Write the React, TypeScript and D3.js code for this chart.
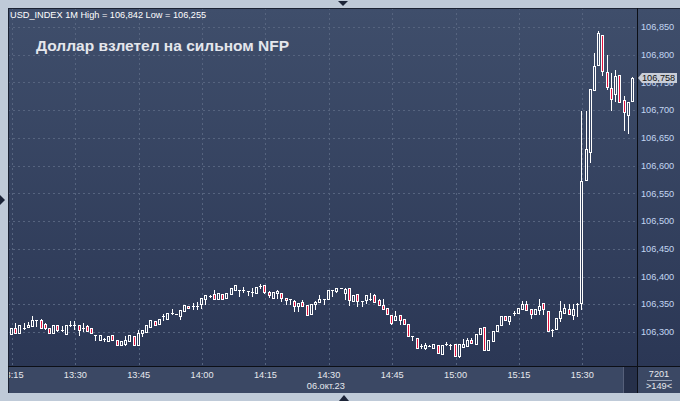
import React from 'react';
import * as d3 from 'd3';

// minute candles USD_INDEX, 06.10.2023, first bar 13:14
const startTime = '13:14';

const opens = [
  106.285, 106.297, 106.308, 106.299, 106.308, 106.309, 106.311, 106.321, 106.321, 106.314,
  106.308, 106.299, 106.312, 106.304, 106.296, 106.312, 106.312, 106.312, 106.308, 106.310,
  106.308, 106.295, 106.286, 106.287, 106.283, 106.294, 106.285, 106.276, 106.278, 106.283,
  106.293, 106.276, 106.299, 106.300, 106.309, 106.319, 106.314, 106.328, 106.324, 106.334,
  106.333, 106.329, 106.338, 106.347, 106.347, 106.346, 106.351, 106.359, 106.365, 106.368,
  106.360, 106.368, 106.362, 106.369, 106.376, 106.376, 106.375, 106.374, 106.370, 106.370,
  106.383, 106.385, 106.372, 106.362, 106.370, 106.370, 106.362, 106.360, 106.355, 106.347,
  106.354, 106.349, 106.333, 106.351, 106.354, 106.360, 106.360, 106.376, 106.374, 106.379,
  106.370, 106.380, 106.355, 106.368, 106.356, 106.358, 106.360, 106.366, 106.357, 106.349,
  106.344, 106.331, 106.322, 106.331, 106.324, 106.315, 106.293, 106.290, 106.275, 106.272,
  106.275, 106.272, 106.277, 106.261, 106.278, 106.277, 106.278, 106.256, 106.273, 106.275,
  106.285, 106.278, 106.296, 106.309, 106.267, 106.284, 106.302, 106.312, 106.329, 106.320,
  106.332, 106.334, 106.341, 106.350, 106.341, 106.333, 106.339, 106.353, 106.338, 106.303,
  106.305, 106.326, 106.334, 106.342, 106.330, 106.351, 106.353, 106.574, 106.624, 106.736,
  106.781, 106.836, 106.769, 106.740, 106.729, 106.763, 106.719, 106.691, 106.716,
];
const highs = [
  106.297, 106.308, 106.317, 106.313, 106.317, 106.318, 106.328, 106.321, 106.323, 106.317,
  106.308, 106.312, 106.312, 106.310, 106.312, 106.320, 106.320, 106.312, 106.317, 106.312,
  106.308, 106.295, 106.294, 106.290, 106.293, 106.294, 106.285, 106.284, 106.293, 106.294,
  106.293, 106.303, 106.303, 106.312, 106.321, 106.319, 106.324, 106.333, 106.334, 106.341,
  106.333, 106.339, 106.348, 106.347, 106.352, 106.354, 106.361, 106.366, 106.367, 106.375,
  106.370, 106.368, 106.371, 106.379, 106.384, 106.376, 106.382, 106.374, 106.379, 106.381,
  106.386, 106.385, 106.374, 106.372, 106.376, 106.370, 106.362, 106.360, 106.358, 106.352,
  106.358, 106.349, 106.351, 106.355, 106.366, 106.360, 106.375, 106.376, 106.379, 106.379,
  106.380, 106.380, 106.366, 106.368, 106.356, 106.367, 106.370, 106.368, 106.359, 106.359,
  106.344, 106.331, 106.338, 106.331, 106.324, 106.315, 106.293, 106.290, 106.279, 106.280,
  106.276, 106.279, 106.277, 106.277, 106.282, 106.278, 106.278, 106.279, 106.287, 106.290,
  106.289, 106.296, 106.308, 106.309, 106.285, 106.302, 106.312, 106.329, 106.329, 106.329,
  106.338, 106.343, 106.355, 106.356, 106.341, 106.341, 106.359, 106.353, 106.338, 106.306,
  106.326, 106.355, 106.350, 106.351, 106.350, 106.353, 106.698, 106.698, 106.739, 106.803,
  106.842, 106.836, 106.800, 106.767, 106.773, 106.763, 106.725, 106.715, 106.759,
];
const lows = [
  106.284, 106.297, 106.299, 106.299, 106.305, 106.309, 106.311, 106.311, 106.308, 106.305,
  106.299, 106.299, 106.301, 106.301, 106.296, 106.311, 106.305, 106.295, 106.302, 106.301,
  106.298, 106.286, 106.286, 106.284, 106.283, 106.285, 106.276, 106.276, 106.276, 106.283,
  106.276, 106.276, 106.293, 106.300, 106.309, 106.312, 106.314, 106.322, 106.324, 106.332,
  106.332, 106.324, 106.338, 106.343, 106.342, 106.342, 106.344, 106.351, 106.364, 106.360,
  106.360, 106.360, 106.362, 106.369, 106.376, 106.365, 106.372, 106.366, 106.365, 106.370,
  106.380, 106.370, 106.364, 106.362, 106.362, 106.356, 106.351, 106.351, 106.338, 106.338,
  106.347, 106.331, 106.333, 106.342, 106.354, 106.351, 106.360, 106.365, 106.372, 106.379,
  106.360, 106.348, 106.355, 106.347, 106.346, 106.353, 106.358, 106.354, 106.349, 106.342,
  106.333, 106.314, 106.322, 106.314, 106.314, 106.293, 106.286, 106.272, 106.272, 106.270,
  106.275, 106.272, 106.263, 106.261, 106.277, 106.270, 106.257, 106.255, 106.273, 106.275,
  106.281, 106.278, 106.296, 106.267, 106.267, 106.284, 106.302, 106.312, 106.321, 106.314,
  106.331, 106.334, 106.341, 106.339, 106.326, 106.333, 106.333, 106.333, 106.302, 106.293,
  106.305, 106.320, 106.334, 106.332, 106.323, 106.329, 106.341, 106.574, 106.606, 106.736,
  106.781, 106.764, 106.739, 106.701, 106.716, 106.715, 106.664, 106.659, 106.716,
];
const closes = [
  106.297, 106.308, 106.299, 106.313, 106.308, 106.313, 106.321, 106.321, 106.308, 106.308,
  106.299, 106.312, 106.303, 106.304, 106.312, 106.312, 106.312, 106.304, 106.308, 106.302,
  106.298, 106.295, 106.294, 106.287, 106.293, 106.285, 106.276, 106.284, 106.285, 106.294,
  106.276, 106.299, 106.303, 106.312, 106.321, 106.312, 106.324, 106.328, 106.334, 106.334,
  106.333, 106.339, 106.348, 106.343, 106.347, 106.346, 106.361, 106.366, 106.365, 106.360,
  106.370, 106.360, 106.371, 106.379, 106.384, 106.376, 106.375, 106.374, 106.373, 106.381,
  106.383, 106.372, 106.366, 106.372, 106.374, 106.362, 106.358, 106.360, 106.346, 106.352,
  106.347, 106.331, 106.351, 106.354, 106.359, 106.360, 106.375, 106.376, 106.379, 106.379,
  106.378, 106.358, 106.366, 106.355, 106.356, 106.367, 106.360, 106.354, 106.349, 106.342,
  106.333, 106.316, 106.328, 106.322, 106.314, 106.293, 106.293, 106.272, 106.275, 106.277,
  106.275, 106.279, 106.263, 106.277, 106.278, 106.277, 106.257, 106.279, 106.279, 106.285,
  106.281, 106.296, 106.308, 106.267, 106.285, 106.302, 106.312, 106.329, 106.321, 106.329,
  106.335, 106.343, 106.350, 106.339, 106.333, 106.341, 106.347, 106.342, 106.302, 106.303,
  106.326, 106.337, 106.344, 106.332, 106.342, 106.351, 106.572, 106.630, 106.739, 106.780,
  106.840, 106.770, 106.741, 106.721, 106.762, 106.715, 106.697, 106.715, 106.758,
];

const xTickLabels = ['13:15', '13:30', '13:45', '14:00', '14:15', '14:30', '14:45', '15:00', '15:15', '15:30'];
const yTicks = [106.30, 106.35, 106.40, 106.45, 106.50, 106.55, 106.60, 106.65, 106.70, 106.75, 106.80, 106.85];

const headerText = 'USD_INDEX 1M High = 106,842 Low = 106,255';
const titleText = 'Доллар взлетел на сильном NFP';
const dateLabel = '06.окт.23';
const barsTotal = '7201';
const barsShown = '>149<';

const W = 680, H = 401;
const panel = { left: 8, top: 8, right: 680, bottom: 393 };
const plotRight = 637, plotBottom = 366;
const FONT = '"Liberation Sans", Arial, sans-serif';

const toMin = (s: string) => { const [h, m] = s.split(':').map(Number); return h * 60 + m; };
const fmt = (v: number) => d3.format('.3f')(v).replace('.', ',');

const App = () => {
  const t0 = toMin(startTime);
  const x = d3.scaleLinear().domain([toMin('13:15'), toMin('15:30')]).range([12, 582.3]);
  const y = d3.scaleLinear().domain([106.30, 106.85]).range([332, 27]);
  const snap = (v: number) => Math.round(v) + 0.5;
  const last = closes[closes.length - 1];
  const ly = y(last);

  return (
    <svg width={W} height={H} style={{ position: 'absolute', left: 0, top: 0, display: 'block' }} fontFamily={FONT}>
      <defs>
        <linearGradient id="bg" gradientUnits="userSpaceOnUse" x1="0" y1={panel.top} x2="0" y2={plotBottom}>
          <stop offset="0" stopColor="#3f4e6b" />
          <stop offset="1" stopColor="#2b3755" />
        </linearGradient>
        <clipPath id="plotClip">
          <rect x={panel.left + 1} y={panel.top + 1} width={plotRight - panel.left - 1} height={plotBottom - panel.top - 1} />
        </clipPath>
        <clipPath id="axisClip">
          <rect x={panel.left + 1} y={plotBottom} width={623 - panel.left - 1} height={panel.bottom - plotBottom} />
        </clipPath>
      </defs>

      {/* outer frame */}
      <rect x={0} y={0} width={W} height={H} fill="#bfcad8" />
      <rect x={panel.left} y={panel.top} width={panel.right - panel.left} height={panel.bottom - panel.top} fill="url(#bg)" />
      <rect x={panel.left} y={plotBottom} width={panel.right - panel.left} height={panel.bottom - plotBottom} fill="#3b4864" />
      <polygon points="338,1 348,1 343,6" fill="#1c2438" />
      <polygon points="339,401 349,401 344,395" fill="#1c2438" />
      <polygon points="0,195 0,205 5,200" fill="#1c2438" />

      {/* grid */}
      <g stroke="#56647f" strokeWidth={1} strokeDasharray="2,3">
        {yTicks.map(t => (
          <line key={t} x1={panel.left} x2={plotRight} y1={snap(y(t))} y2={snap(y(t))} />
        ))}
        {xTickLabels.map(l => (
          <line key={l} x1={snap(x(toMin(l)))} x2={snap(x(toMin(l)))} y1={panel.top} y2={plotBottom} />
        ))}
      </g>

      {/* candles */}
      <g clipPath="url(#plotClip)">
        {opens.map((o, i) => {
          const c = closes[i];
          const cx = Math.round(x(t0 + i));
          const top = Math.round(y(Math.max(o, c)));
          const bot = Math.round(y(Math.min(o, c)));
          const bear = c < o;
          return (
            <g key={i}>
              <line x1={cx - 0.5} x2={cx - 0.5} y1={Math.round(y(highs[i]))} y2={Math.round(y(lows[i])) + 1} stroke="#ffffff" />
              {bot - top < 2 ? (
                <line x1={cx - 2} x2={cx + 1} y1={top + 0.5} y2={top + 0.5} stroke="#ffffff" />
              ) : (
                <rect x={cx - 1.5} y={top + 0.5} width={2} height={bot - top} fill={bear ? '#e2123e' : 'url(#bg)'} stroke="#ffffff" strokeWidth={1} />
              )}
            </g>
          );
        })}
      </g>

      {/* header + title */}
      <text x={10} y={18} fontSize={9.2} fill="#ffffff">{headerText}</text>
      <text x={36} y={51} fontSize={15.5} fontWeight="bold" fill="#e4e6ec">{titleText}</text>

      {/* frame lines */}
      <line x1={panel.left + 0.5} x2={panel.left + 0.5} y1={panel.top} y2={panel.bottom} stroke="#1b2233" />
      <line x1={panel.left} x2={panel.right} y1={panel.top + 0.5} y2={panel.top + 0.5} stroke="#1b2233" />
      <line x1={plotRight + 0.5} x2={plotRight + 0.5} y1={panel.top} y2={panel.bottom} stroke="#0c0f16" />
      <line x1={panel.left} x2={panel.right} y1={plotBottom + 0.5} y2={plotBottom + 0.5} stroke="#0c0f16" />

      {/* y axis labels */}
      <g fontSize={9.2} fill="#c3d6f2">
        {yTicks.map(t => (
          <text key={t} x={641} y={y(t)} dy="0.35em">{fmt(t)}</text>
        ))}
      </g>

      {/* last price marker */}
      <polygon points={`638,${ly} 642,${ly - 5} 677,${ly - 5} 677,${ly + 5} 642,${ly + 5}`} fill="#c9ced8" />
      <text x={642} y={ly} dy="0.35em" fontSize={9.2} fill="#111111">{fmt(last)}</text>

      {/* x axis */}
      <g clipPath="url(#axisClip)" fontSize={9.2} fill="#e6e8ee" textAnchor="middle">
        {xTickLabels.map(l => (
          <text key={l} x={x(toMin(l))} y={378}>{l}</text>
        ))}
        <text x={x(toMin('14:30')) - 3} y={389}>{dateLabel}</text>
      </g>
      <rect x={623} y={plotBottom + 1} width={plotRight - 623} height={panel.bottom - plotBottom - 1} fill="#26304a" />
      <line x1={623.5} x2={623.5} y1={plotBottom + 1} y2={panel.bottom} stroke="#56607a" />

      <g fontSize={9.2} fill="#e6e8ee" textAnchor="middle">
        <text x={659} y={377}>{barsTotal}</text>
        <line x1={647} x2={672} y1={380.5} y2={380.5} stroke="#9aa4b8" />
        <text x={659} y={389}>{barsShown}</text>
      </g>
    </svg>
  );
};

export default App;
